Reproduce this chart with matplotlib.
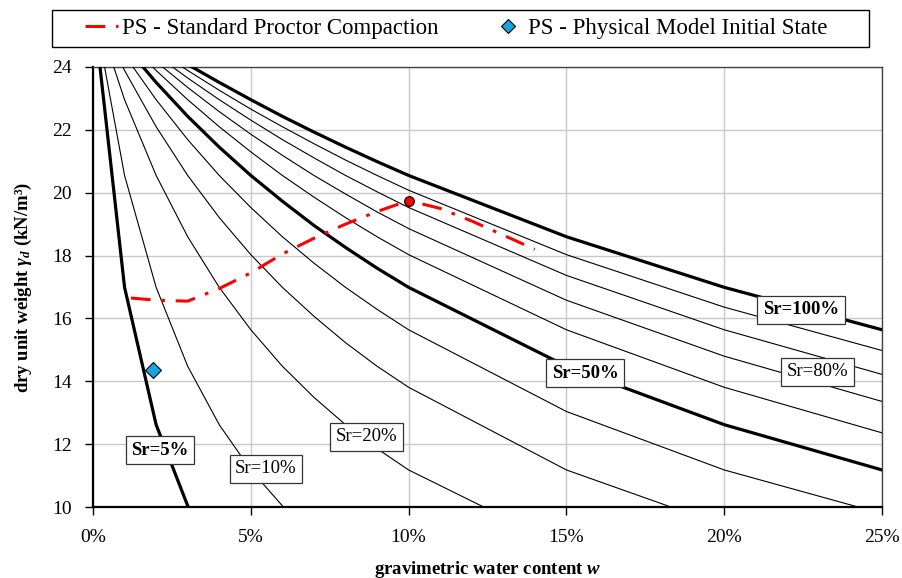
import matplotlib.pyplot as plt
from matplotlib.lines import Line2D
from matplotlib.patches import Rectangle

plt.rcParams['font.family'] = ['Liberation Serif', 'DejaVu Serif']
plt.rcParams['mathtext.fontset'] = 'custom'
plt.rcParams['mathtext.rm'] = 'Liberation Serif:bold'
plt.rcParams['mathtext.it'] = 'Liberation Serif:italic:bold'
plt.rcParams['mathtext.bf'] = 'Liberation Serif:bold'

# water content sample points (%)
w_pts = [0, 1, 2, 3, 4, 5, 6, 7, 8, 9, 10, 15, 20, 25]

# dry unit weight (kN/m3) on each saturation curve, read at w_pts
sr_levels = [5, 10, 20, 30, 40, 50, 60, 70, 80, 90, 100]
gd_curves = [
    [26.00, 16.99, 12.62, 10.04, 8.33, 7.12, 6.22, 5.52, 4.96, 4.51, 4.13, 2.91, 2.24, 1.82],
    [26.00, 20.55, 16.99, 14.48, 12.62, 11.18, 10.04, 9.11, 8.33, 7.68, 7.12, 5.35, 4.13, 3.37],
    [26.00, 22.96, 20.55, 18.60, 16.99, 15.64, 14.48, 13.49, 12.62, 11.86, 11.18, 8.70, 7.12, 6.03],
    [26.00, 23.89, 22.10, 20.55, 19.21, 18.03, 16.99, 16.07, 15.23, 14.48, 13.81, 11.18, 9.40, 8.10],
    [26.00, 24.38, 22.96, 21.69, 20.55, 19.53, 18.60, 17.76, 16.99, 16.29, 15.64, 13.04, 11.18, 9.79],
    [26.00, 24.69, 23.51, 22.43, 21.45, 20.55, 19.73, 18.96, 18.26, 17.60, 16.99, 14.48, 12.62, 11.18],
    [26.00, 24.90, 23.89, 22.96, 22.10, 21.30, 20.55, 19.86, 19.21, 18.60, 18.03, 15.64, 13.81, 12.36],
    [26.00, 25.05, 24.17, 23.35, 22.58, 21.86, 21.19, 20.55, 19.96, 19.39, 18.86, 16.58, 14.80, 13.36],
    [26.00, 25.17, 24.38, 23.65, 22.96, 22.31, 21.69, 21.11, 20.55, 20.03, 19.53, 17.37, 15.64, 14.22],
    [26.00, 25.26, 24.55, 23.89, 23.26, 22.66, 22.10, 21.56, 21.04, 20.55, 20.08, 18.03, 16.36, 14.98],
    [26.00, 25.33, 24.69, 24.08, 23.51, 22.96, 22.43, 21.93, 21.45, 20.99, 20.55, 18.60, 16.99, 15.64],
]
thick_levels = [5, 50, 100]

# standard Proctor compaction curve
proctor_w = [1.2, 2, 3, 4, 5, 6, 7, 8, 9, 10, 11, 12, 13, 14]
proctor_gd = [16.65, 16.58, 16.55, 16.95, 17.45, 18.05, 18.55, 19.0, 19.4, 19.75, 19.5, 19.1, 18.65, 18.2]
opt_w, opt_gd = 10.0, 19.75

# physical model initial state
model_w, model_gd = 1.9, 14.36

# curve labels: text, x, y, bold
label_text = ['Sr=5%', 'Sr=10%', 'Sr=20%', 'Sr=50%', 'Sr=80%', 'Sr=100%']
label_x = [2.12, 5.48, 8.68, 15.59, 22.97, 22.43]
label_y = [11.81, 11.21, 12.23, 14.26, 14.30, 16.27]
label_bold = [True, False, False, True, False, True]

red_dash = (6.5, 3.5, 1.2, 3.5)

fig = plt.figure(figsize=(9.02, 5.78), dpi=100)
ax = fig.add_axes([0.1031, 0.1228, 0.8747, 0.7613])

for sr, gd in zip(sr_levels, gd_curves):
    lw = 2.3 if sr in thick_levels else 0.8
    ax.plot(w_pts, gd, color='black', lw=lw, zorder=3)

ax.plot(proctor_w, proctor_gd, color='red', lw=2.2, dashes=red_dash, zorder=4)
ax.plot([opt_w], [opt_gd], 'o', color='red', mec='black', mew=0.8, ms=7, zorder=5)
ax.plot([model_w], [model_gd], 'D', color='#1aa3e0', mec='black', mew=0.8, ms=8, zorder=5)

for t, x, y, b in zip(label_text, label_x, label_y, label_bold):
    ax.text(x, y, t, ha='center', va='center', fontsize=13.5,
            fontweight='bold' if b else 'normal', zorder=6,
            bbox=dict(boxstyle='square,pad=0.3', fc='white', ec='#333333', lw=0.9))

ax.set_xlim(0, 25)
ax.set_ylim(10, 24)
ax.set_xticks([0, 5, 10, 15, 20, 25])
ax.set_xticklabels(['0%', '5%', '10%', '15%', '20%', '25%'])
ax.set_yticks([10, 12, 14, 16, 18, 20, 22, 24])
ax.tick_params(labelsize=14, length=6, width=1, direction='out')
ax.tick_params(axis='x', pad=10)
ax.tick_params(axis='y', pad=9)
ax.grid(True, color='#c8c8c8', lw=1)
ax.set_axisbelow(True)

for s in ['left', 'bottom']:
    ax.spines[s].set_color('black')
    ax.spines[s].set_linewidth(1.6)
for s in ['top', 'right']:
    ax.spines[s].set_color('#444444')
    ax.spines[s].set_linewidth(1.0)

ax.set_xlabel('gravimetric water content $w$', fontsize=13.5, fontweight='bold', labelpad=9)
ax.set_ylabel('dry unit weight $\\gamma_d$ (kN/m\u00b3)', fontsize=13.5, fontweight='bold', labelpad=13)

# legend: two entries placed separately inside one drawn frame
h1 = Line2D([], [], color='red', lw=2.2, dashes=red_dash)
h2 = Line2D([], [], marker='D', color='#1aa3e0', mec='black', mew=0.8, ms=7, ls='none')
leg_y = 1 - 28.5 / 578
fig.legend([h1], ['PS - Standard Proctor Compaction'], loc='center left',
           bbox_to_anchor=(85 / 902, leg_y), fontsize=16.5, frameon=False,
           handlelength=1.45, handletextpad=0.15, borderpad=0, borderaxespad=0)
fig.legend([h2], ['PS - Physical Model Initial State'], loc='center left',
           bbox_to_anchor=(491 / 902, leg_y), fontsize=16.5, frameon=False,
           handlelength=1.45, handletextpad=0.15, borderpad=0, borderaxespad=0)
fig.patches.append(Rectangle((52 / 902, 1 - 47 / 578), 817 / 902, 37 / 578,
                             transform=fig.transFigure, fill=False, ec='black', lw=1.0))

fig.savefig('out.png', dpi=100)
